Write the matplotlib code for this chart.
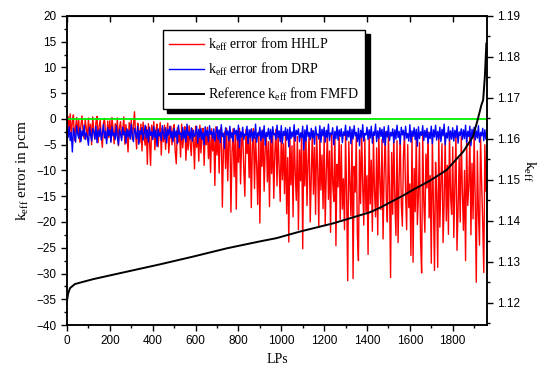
import numpy as np
import matplotlib
matplotlib.use("Agg")
import matplotlib.pyplot as plt
from matplotlib.ticker import MultipleLocator

plt.rcParams['font.family'] = ['Liberation Sans', 'DejaVu Sans']
plt.rcParams['mathtext.fontset'] = 'custom'
plt.rcParams['mathtext.rm'] = 'Liberation Serif'
plt.rcParams['mathtext.it'] = 'Liberation Serif:italic'

# keff error from HHLP (pcm), sampled every 5 LPs
err_hhlp = [
    -1.0, 0.5, -2.8, 1.0, -3.5, -0.5, 0.8, -4.2, -1.5, 0.3, -3.0, -0.2, -4.5, -1.2, 0.6, -2.6, -3.8, 0.0, -1.8, -4.0,
    0.2, -3.2, -1.0, -5.0, 0.4, -2.2, -3.9, -0.6, 0.5, -4.6, -1.4, -0.2, -3.4, -5.5, -0.8, 0.1, -2.9, -4.1, -0.4, -3.6,
    -0.3, -4.4, 0.3, -2.0, -4.8, -0.9, -3.1, 0.2, -5.2, -1.6, -0.5, -3.7, -2.4, 0.4, -4.9, -1.1, -3.3, -6.4, -0.7, -2.5,
    -0.2, -4.0, -1.3, 1.4, -3.0, -5.8, -0.8, -2.1, -4.6, -1.0, -6.2, -0.6, -3.4, -5.1, -1.5, -8.8, -0.9, -4.3, -9.0, -1.2,
    -3.6, -0.5, -6.0, -2.2, -1.0, -5.4, -3.0, -0.7, -7.0, -1.8, -4.4, -1.2, -5.9, -2.6, -0.8, -6.6, -3.2, -1.4, -5.0, -2.0,
    -1.1, -6.3, -8.7, -1.7, -4.5, -2.4, -7.4, -1.0, -5.6, -3.0, -1.5, -8.0, -2.2, -6.0, -1.3, -4.8, -7.1, -1.9, -3.6, -9.7,
    -1.4, -5.5, -2.8, -8.2, -1.2, -6.6, -3.5, -1.8, -9.0, -2.4, -5.0, -1.6, -7.7, -3.1, -10.4, -1.9, -6.2, -2.6, -12.9, -1.5,
    -7.0, -2.2, -10.5, -3.4, -1.7, -17.1, -5.8, -2.5, -9.6, -1.8, -12.0, -4.0, -2.3, -18.1, -6.5, -1.9, -11.2, -3.0, -17.5, -2.4,
    -8.4, -1.8, -12.6, -4.2, -2.6, -9.8, -15.0, -2.0, -6.7, -3.3, -11.4, -2.2, -17.2, -5.2, -1.9, -13.5, -3.6, -8.9, -16.6, -2.5,
    -20.2, -3.0, -9.2, -2.1, -14.0, -5.6, -2.7, -12.2, -4.4, -17.0, -2.3, -10.6, -3.2, -15.4, -6.4, -2.0, -13.0, -2.8, -9.4, -16.0,
    -2.4, -11.8, -4.8, -14.5, -2.6, -18.4, -7.5, -23.9, -3.0, -12.8, -5.2, -19.0, -2.2, -10.2, -15.8, -3.4, -21.5, -6.0, -12.0, -2.7,
    -25.2, -4.2, -13.0, -2.5, -16.8, -8.2, -3.1, -20.0, -11.0, -2.3, -14.6, -5.5, -18.5, -3.0, -9.8, -21.0, -2.6, -13.8, -7.0, -17.4,
    -3.2, -20.5, -10.4, -2.4, -15.6, -6.2, -22.0, -3.0, -12.4, -16.0, -2.5, -24.6, -8.8, -13.2, -2.9, -19.5, -5.0, -17.5, -11.6, -21.5,
    -2.6, -15.0, -31.4, -4.4, -12.5, -18.8, -2.8, -31.0, -9.2, -14.2, -3.3, -22.5, -27.5, -6.0, -16.4, -2.4, -13.0, -20.6, -3.8, -18.0,
    -11.0, -26.3, -2.7, -16.5, -8.0, -21.8, -3.4, -14.0, -19.0, -5.6, -22.5, -2.9, -12.2, -17.6, -4.0, -23.3, -10.5, -2.5, -15.2, -20.0,
    -3.1, -13.6, -30.8, -6.5, -18.5, -2.6, -15.8, -22.6, -4.2, -24.0, -11.4, -3.0, -16.5, -20.8, -7.2, -2.8, -14.4, -21.5, -5.0, -17.2,
    -12.6, -26.5, -3.3, -27.8, -9.6, -18.0, -2.7, -20.5, -14.8, -4.6, -23.6, -29.9, -3.0, -16.0, -22.0, -6.8, -13.4, -2.5, -19.2, -11.0,
    -28.0, -3.6, -17.0, -29.4, -8.4, -14.6, -28.8, -2.8, -21.0, -12.0, -4.8, -24.0, -16.2, -3.2, -19.8, -9.0, -22.4, -2.6, -15.0, -18.5,
    -5.4, -23.0, -12.8, -2.9, -25.5, -17.6, -7.6, -20.0, -3.4, -14.2, -21.6, -10.0, -27.5, -4.0, -16.8, -13.0, -2.7, -22.5, -8.6, -19.4,
    -3.0, -15.6, -31.7, -6.2, -18.2, -24.5, -3.5, -12.4, -20.2, -29.8, -5.0, -14.0,
]

# keff error from DRP (pcm), sampled every 5 LPs
err_drp = [
    -2.0, -3.6, -1.5, -4.2, -2.6, -6.4, -1.8, -3.1, -4.5, -1.3, -2.9, -3.8, -1.7, -4.4, -2.3, -3.3, -1.2, -4.0, -2.7, -3.5,
    -5.1, -1.6, -3.0, -4.3, -1.9, -2.5, -3.9, -1.4, -4.6, -2.2, -3.4, -1.8, -4.1, -2.8, -1.1, -3.7, -2.4, -4.8, -1.7, -3.2,
    -2.1, -4.5, -1.5, -3.3, -2.7, -4.0, -1.3, -3.6, -5.0, -2.0, -2.9, -4.2, -1.6, -3.1, -2.4, -4.7, -1.9, -3.5, -2.2, -3.9,
    -1.0, -3.4, -4.4, -1.8, -2.6, -3.8, -1.4, -4.9, -2.3, -3.0, -1.7, -4.1, -2.8, -1.2, -3.7, -2.1, -4.5, -1.6, -3.2, -2.5,
    -4.0, -1.5, -3.6, -2.2, -5.3, -1.9, -3.3, -2.6, -4.2, -1.3, -2.8, -3.9, -1.7, -4.6, -2.0, -3.1, -1.4, -3.7, -2.4, -4.4,
    -1.8, -3.5, -2.3, -4.8, -1.2, -3.0, -2.7, -4.1, -1.6, -3.8, -2.1, -4.5, -1.0, -3.2, -2.5, -3.9, -1.7, -4.3, -2.2, -3.4,
    -2.9, -1.4, -4.7, -2.0, -3.6, -1.8, -4.0, -2.6, -5.0, -1.5, -3.3, -2.2, -4.4, -1.3, -3.0, -2.4, -3.8, -1.9, -4.3, -2.7,
    -1.5, -3.9, -2.1, -4.6, -1.1, -3.4, -2.8, -5.7, -1.7, -3.1, -2.3, -4.2, -1.4, -3.7, -2.6, -4.4, -1.8, -3.0, -2.2, -4.1,
    -1.2, -5.6, -2.5, -3.5, -1.6, -4.0, -2.9, -3.2, -1.4, -4.8, -2.1, -3.6, -1.9, -4.3, -2.4, -3.8, -1.0, -4.5, -2.7, -3.3,
    -1.6, -4.2, -2.2, -3.7, -1.3, -5.1, -2.6, -3.4, -1.8, -3.9, -2.0, -4.6, -1.5, -3.1, -2.8, -4.0, -1.2, -3.6, -2.3, -4.4,
    -1.3, -4.7, -2.4, -3.2, -1.7, -4.1, -2.0, -5.4, -1.6, -3.8, -2.5, -3.5, -1.1, -4.3, -2.2, -3.0, -1.9, -4.4, -2.7, -3.6,
    -1.4, -6.0, -2.1, -4.3, -1.2, -3.4, -2.6, -4.0, -1.8, -3.7, -2.3, -4.9, -1.5, -3.1, -2.9, -3.9, -1.3, -4.5, -2.0, -3.3,
    -1.6, -4.5, -2.2, -3.6, -1.0, -4.2, -2.7, -3.0, -1.7, -5.0, -2.4, -3.8, -1.4, -4.1, -2.1, -3.4, -1.9, -4.6, -2.5, -3.2,
    -1.2, -4.1, -2.3, -3.5, -1.5, -4.8, -2.0, -3.9, -1.3, -3.3, -2.6, -4.4, -1.8, -5.2, -2.2, -3.6, -1.1, -4.3, -2.8, -3.1,
    -1.6, -4.0, -2.1, -3.7, -1.4, -4.7, -2.5, -3.2, -1.0, -4.4, -2.3, -3.8, -1.7, -3.4, -2.0, -4.6, -1.5, -5.1, -2.4, -3.5,
    -1.3, -4.2, -2.6, -3.3, -1.9, -4.6, -2.1, -3.9, -1.2, -3.6, -2.4, -4.9, -1.6, -3.1, -2.2, -4.1, -1.4, -3.7, -2.8, -4.3,
    -1.1, -4.5, -2.3, -3.4, -1.7, -4.0, -2.0, -5.3, -1.5, -3.8, -2.5, -3.2, -1.3, -4.2, -2.2, -3.6, -1.8, -4.7, -2.6, -3.8,
    -1.4, -4.8, -2.1, -3.5, -1.2, -4.1, -2.4, -3.9, -1.6, -4.4, -2.0, -3.3, -1.0, -5.0, -2.7, -3.7, -1.5, -4.2, -2.3, -3.9,
    -1.7, -4.3, -2.2, -3.6, -1.3, -4.7, -2.5, -3.2, -1.9, -4.0, -2.1, -3.8, -1.2, -4.6, -2.4, -3.4, -1.4, -5.2, -2.0, -3.5,
    -1.6, -4.1, -2.3, -3.7, -1.3, -4.5, -2.6, -3.3, -1.8, -4.2, -2.1, -3.9,
]

# reference keff from FMFD (sorted)
lp_ref = [0, 5, 14, 37, 123, 278, 434, 589, 745, 900, 978, 1087, 1242,
          1413, 1460, 1569, 1615, 1693, 1771, 1849, 1895, 1918, 1934,
          1942, 1950, 1957]
k_ref = [1.1205, 1.1222, 1.1236, 1.1246, 1.1258, 1.1276, 1.1294, 1.1313,
         1.1333, 1.1350, 1.1358, 1.1374, 1.1394, 1.1421, 1.1432, 1.1462,
         1.1476, 1.1498, 1.1524, 1.1569, 1.1606, 1.1650, 1.1683, 1.1695,
         1.1752, 1.1833]

lp_hhlp = np.arange(len(err_hhlp)) * 5
lp_drp = np.arange(len(err_drp)) * 5

serif = 'Liberation Serif'

fig = plt.figure(figsize=(5.48, 3.71), dpi=100)
ax = fig.add_axes([67/548, 1 - 325/371, 420/548, 309/371])
ax2 = ax.twinx()

l1, = ax.plot(lp_hhlp, err_hhlp, color='red', lw=1.0)
l2, = ax.plot(lp_drp, err_drp, color='blue', lw=1.0)
ax.axhline(0, color='#00ee00', lw=1.3)
l3, = ax2.plot(lp_ref, k_ref, color='black', lw=1.4)

ax.set_xlim(0, 1960)
ax.set_ylim(-40, 20)
ax2.set_ylim(1.1146, 1.19)

ax.xaxis.set_major_locator(MultipleLocator(200))
ax.xaxis.set_minor_locator(MultipleLocator(100))
ax.yaxis.set_major_locator(MultipleLocator(5))
ax.yaxis.set_minor_locator(MultipleLocator(2.5))
ax2.yaxis.set_major_locator(MultipleLocator(0.01))
ax2.yaxis.set_minor_locator(MultipleLocator(0.005))

for a in (ax, ax2):
    a.tick_params(which='both', direction='out', labelsize=8.5, width=1)
    a.tick_params(which='major', length=4)
    a.tick_params(which='minor', length=2.5)
    for s in a.spines.values():
        s.set_linewidth(1.1)

top = ax.secondary_xaxis('top')
top.xaxis.set_major_locator(MultipleLocator(200))
top.tick_params(direction='in', length=4, width=1, labeltop=False)

ax.set_xlabel('LPs', family=serif, fontsize=10)
ax.set_ylabel(r'k$_{\rm eff}$ error in pcm', family=serif, fontsize=11)
ax2.set_ylabel(r'k$_{\rm eff}$', family=serif, fontsize=11, rotation=270,
               labelpad=12)

leg = ax2.legend([l1, l2, l3],
                 [r'k$_{\rm eff}$ error from HHLP', r'k$_{\rm eff}$ error from DRP',
                  r'Reference k$_{\rm eff}$ from FMFD'],
                 loc='upper left', bbox_to_anchor=(0.2286, 0.9547),
                 borderaxespad=0, fancybox=False, framealpha=1,
                 edgecolor='black', handlelength=2.5, handletextpad=0.3,
                 labelspacing=0.55, borderpad=0.45,
                 shadow={'ox': 3, 'oy': -3, 'color': 'black', 'alpha': 1},
                 prop={'family': serif, 'size': 10})
leg.get_frame().set_linewidth(1.0)

fig.savefig('out.png', dpi=100)
